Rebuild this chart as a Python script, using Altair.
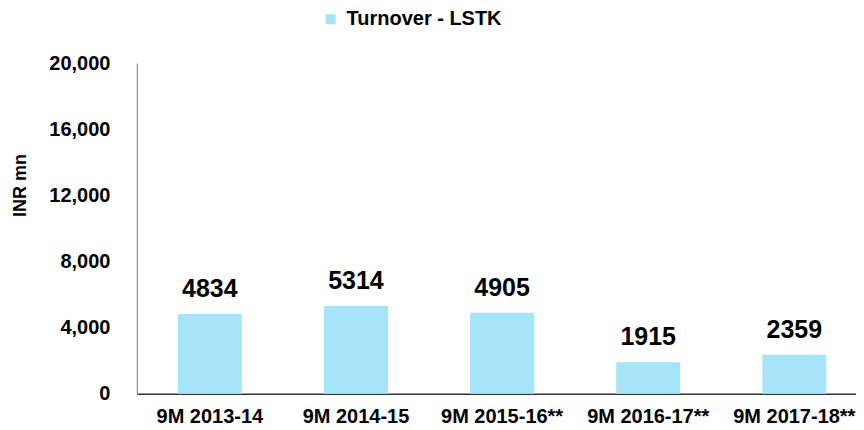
import altair as alt
import pandas as pd

categories = ["9M 2013-14", "9M 2014-15", "9M 2015-16**", "9M 2016-17**", "9M 2017-18**"]
turnover = [4834, 5314, 4905, 1915, 2359]
series_name = "Turnover - LSTK"
y_ticks = [0, 4000, 8000, 12000, 16000, 20000]

df = pd.DataFrame({"period": categories, "value": turnover, "series": [series_name] * len(categories)})

FONT = "Liberation Sans"

base = alt.Chart(df).encode(
    x=alt.X("period:N", sort=categories, title=None,
            scale=alt.Scale(paddingInner=0.5625, paddingOuter=0.242, align=0.58),
            axis=alt.Axis(labelAngle=0, ticks=False, labelFontSize=20, labelFont=FONT,
                          labelFontWeight="bold", labelColor="#000", domainColor="#333",
                          domainWidth=1.5, labelPadding=13)),
)

bars = base.mark_bar(color="#A6E4FA").encode(
    y=alt.Y("value:Q", scale=alt.Scale(domain=[0, 20000]), title="INR mn",
            axis=alt.Axis(values=y_ticks, format=",d", grid=False, ticks=False,
                          labelFontSize=20, labelFont=FONT, labelFontWeight="bold",
                          labelColor="#000", labelPadding=27, domainColor="#777",
                          titleFont=FONT, titleFontSize=18, titleFontWeight="bold",
                          titleColor="#000", titleAngle=270, titleAlign="center",
                          titleBaseline="middle", titleX=-116, titleY=122)),
    color=alt.Color("series:N", scale=alt.Scale(range=["#A6E4FA"]),
                    legend=alt.Legend(title=None, orient="none", legendX=184, legendY=-54,
                                      symbolType="square", symbolSize=100,
                                      symbolStrokeWidth=0, labelFontSize=20, labelFont=FONT,
                                      labelFontWeight="bold", labelColor="#000",
                                      labelOffset=6, labelLimit=400)),
)

labels = base.mark_text(baseline="alphabetic", dy=-17, fontSize=25, fontWeight="bold",
                        font=FONT, color="#000").encode(
    y=alt.Y("value:Q"),
    text=alt.Text("value:Q", format="d"),
)

chart = (bars + labels).properties(
    width=720, height=331,
    autosize=alt.AutoSizeParams(type="none"),
    padding={"left": 129, "top": 55, "right": 0, "bottom": 35},
).configure_view(stroke=None)

chart.save("out.html", embed_options={"renderer": "svg", "actions": False})
